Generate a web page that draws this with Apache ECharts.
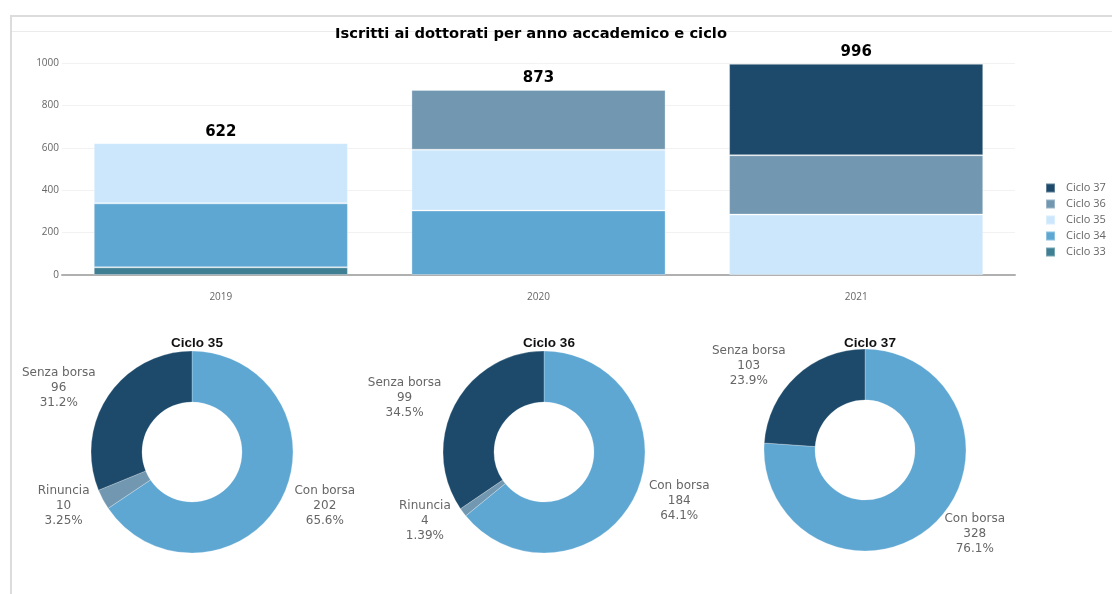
<!DOCTYPE html>
<html>
<head>
<meta charset="utf-8">
<script src="https://cdn.jsdelivr.net/npm/echarts@6/dist/echarts.min.js"></script>
<style>
html,body{margin:0;padding:0;background:#fff;}
#c{width:1112px;height:594px;}
</style>
</head>
<body>
<div id="c"></div>
<script>
// ---- data ----
const years = ['2019', '2020', '2021'];
const cicloNames = ['Ciclo 33', 'Ciclo 34', 'Ciclo 35', 'Ciclo 36', 'Ciclo 37'];
const ciclo33 = [36, null, null];
const ciclo34 = [302, 304, null];
const ciclo35 = [284, 287, 285];
const ciclo36 = [null, 282, 280];
const ciclo37 = [null, null, 431];
const cicloColors = ['#3f7f93', '#5fa7d3', '#cce7fb', '#7297b1', '#1d4a6a'];

const pieTitles = ['Ciclo 35', 'Ciclo 36', 'Ciclo 37'];
const pieCategories = ['Con borsa', 'Rinuncia', 'Senza borsa'];
const pie35 = [202, 10, 96];
const pie36 = [184, 4, 99];
const pie37 = [328, 0, 103];
const pieColors = ['#5fa7d3', '#7297b1', '#1d4a6a'];

// ---- build ----
const stacks = [ciclo33, ciclo34, ciclo35, ciclo36, ciclo37];
const totals = years.map((y, i) => stacks.reduce((s, arr) => s + (arr[i] || 0), 0));

const barSeries = stacks.map((arr, k) => ({
  name: cicloNames[k],
  type: 'bar',
  stack: 'tot',
  barWidth: '80%',
  data: arr,
  itemStyle: { color: cicloColors[k], borderColor: 'rgba(255,255,255,0.3)', borderWidth: 1 },
  emphasis: { disabled: true }
}));
barSeries.push({
  name: 'Totale',
  type: 'bar',
  stack: 'tot',
  barWidth: '80%',
  data: totals.map(() => 0),
  itemStyle: { color: 'transparent' },
  label: {
    show: true, position: 'top', distance: 4,
    formatter: p => String(totals[p.dataIndex]),
    fontFamily: 'DejaVu Sans', fontWeight: 'bold', fontSize: 15, color: '#000'
  },
  emphasis: { disabled: true }
});

const pieSets = [pie35, pie36, pie37];
const pieCenters = [[192, 452], [544, 452], [865, 450]];
const pieSeries = pieSets.map((vals, j) => {
  const total = vals.reduce((a, b) => a + b, 0);
  const data = [];
  vals.forEach((v, i) => {
    if (v > 0) data.push({ name: pieCategories[i], value: v, itemStyle: { color: pieColors[i] } });
  });
  return {
    type: 'pie',
    center: pieCenters[j],
    radius: [50, 101],
    startAngle: 90,
    clockwise: true,
    data: data,
    silent: true,
    itemStyle: { borderColor: 'rgba(255,255,255,0.5)', borderWidth: 0.5 },
    label: {
      show: true,
      position: 'outside',
      distanceToLabelLine: 0,
      formatter: p => p.name + '\n' + p.value + '\n' + Number((p.value / total * 100).toPrecision(3)) + '%',
      fontFamily: 'DejaVu Sans', fontSize: 12, color: '#666', lineHeight: 15
    },
    labelLine: { show: false, length: 14, length2: 1 },
    labelLayout: function (params) {
      const r = params.labelRect;
      return { x: r.x + r.width / 2, y: r.y + r.height / 2, align: 'center', verticalAlign: 'middle' };
    }
  };
});

const titles = [{
  text: 'Iscritti ai dottorati per anno accademico e ciclo',
  left: 526, top: 22, textAlign: 'center',
  textStyle: { fontFamily: 'DejaVu Sans', fontWeight: 'bold', fontSize: 14.7, color: '#000' }
}];
pieTitles.forEach((t, j) => titles.push({
  text: t, left: pieCenters[j][0], top: 331, textAlign: 'center',
  textStyle: { fontFamily: 'Liberation Sans', fontWeight: 'bold', fontSize: 13.5, color: '#111' }
}));

const chart = echarts.init(document.getElementById('c'), null, { renderer: 'canvas' });
chart.setOption({
  animation: false,
  backgroundColor: '#fff',
  title: titles,
  graphic: [
    { type: 'line', shape: { x1: 10, y1: 16, x2: 1112, y2: 16 }, style: { stroke: '#dcdcdc', lineWidth: 2 }, z: -1 },
    { type: 'line', shape: { x1: 11, y1: 16, x2: 11, y2: 594 }, style: { stroke: '#dcdcdc', lineWidth: 2 }, z: -1 },
    { type: 'line', shape: { x1: 12, y1: 31.5, x2: 1112, y2: 31.5 }, style: { stroke: '#ebebeb', lineWidth: 1 }, z: -1 }
  ],
  legend: {
    data: cicloNames.slice().reverse(),
    orient: 'vertical',
    left: 1040, top: 177,
    itemWidth: 9, itemHeight: 9, itemGap: 4,
    icon: 'rect',
    textStyle: { fontFamily: 'Open Sans', fontSize: 11, color: '#666', lineHeight: 12, padding: [0, 0, 0, 6] },
    selectedMode: false
  },
  grid: { left: 62, right: 97, top: 63, bottom: 319, containLabel: false },
  xAxis: {
    type: 'category', data: years,
    axisLine: { lineStyle: { color: '#b0b0b0', width: 2 } },
    axisTick: { show: false },
    axisLabel: { fontFamily: 'Open Sans', fontSize: 10, color: '#666', margin: 17 }
  },
  yAxis: {
    type: 'value', min: 0, max: 1000, interval: 200,
    axisLine: { show: false },
    axisTick: { show: false },
    splitLine: { lineStyle: { color: '#f2f2f2', width: 1 } },
    axisLabel: { fontFamily: 'Open Sans', fontSize: 10, color: '#666', margin: 3, formatter: v => String(v) }
  },
  series: barSeries.concat(pieSeries)
});
</script>
</body>
</html>
